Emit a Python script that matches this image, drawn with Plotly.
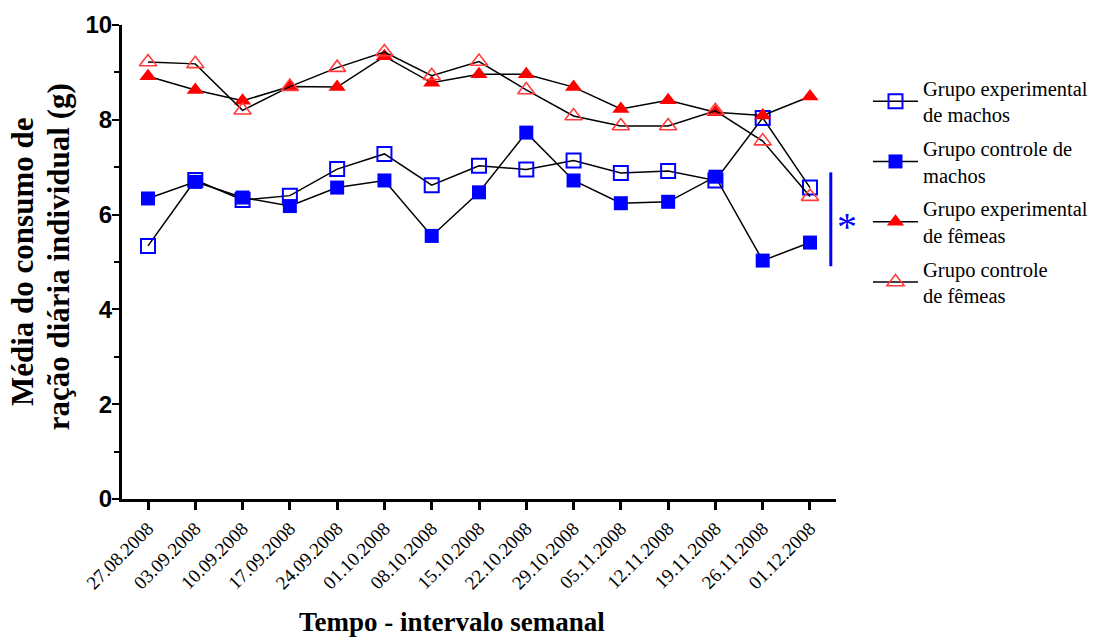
import plotly.graph_objects as go

dates = ["27.08.2008", "03.09.2008", "10.09.2008", "17.09.2008", "24.09.2008",
         "01.10.2008", "08.10.2008", "15.10.2008", "22.10.2008", "29.10.2008",
         "05.11.2008", "12.11.2008", "19.11.2008", "26.11.2008", "01.12.2008"]

exp_machos = [5.34, 6.73, 6.31, 6.40, 6.96, 7.28, 6.62, 7.03, 6.95, 7.14, 6.88, 6.92, 6.72, 8.04, 6.57]
ctrl_machos = [6.34, 6.69, 6.36, 6.18, 6.57, 6.72, 5.55, 6.47, 7.73, 6.72, 6.24, 6.27, 6.80, 5.03, 5.41]
exp_femeas = [8.92, 8.63, 8.40, 8.70, 8.69, 9.34, 8.78, 8.96, 8.96, 8.69, 8.23, 8.41, 8.16, 8.09, 8.49]
ctrl_femeas = [9.22, 9.18, 8.20, 8.70, 9.10, 9.43, 8.93, 9.23, 8.63, 8.08, 7.87, 7.87, 8.19, 7.55, 6.38]

names = ["Grupo experimental<br>de machos", "Grupo controle de<br>machos",
         "Grupo experimental<br>de fêmeas", "Grupo controle<br>de fêmeas"]

ytitle_lines = ["Média do consumo de", "ração diária individual (g)"]
xtitle = "Tempo - intervalo semanal"

sig_low, sig_high = 4.91, 6.89

SERIF = "Liberation Serif"
SANS = "Liberation Sans"

fig = go.Figure()
styles = [
    (exp_machos, dict(symbol="square-open", size=14, color="#0000ff", line=dict(width=2, color="#0000ff"))),
    (ctrl_machos, dict(symbol="square", size=14, color="#0000ff", line=dict(width=0))),
    (exp_femeas, dict(symbol="triangle-up", size=15, color="#ff0000", line=dict(width=0))),
    (ctrl_femeas, dict(symbol="triangle-up-open", size=15, color="#ff3b3b", line=dict(width=1.6, color="#ff3b3b"))),
]
for i, ((vals, mk), nm) in enumerate(zip(styles, names)):
    fig.add_trace(go.Scatter(x=dates, y=vals, name=nm, mode="lines+markers",
                             legendgroup="g%d" % i,
                             line=dict(color="black", width=1.5), marker=mk,
                             cliponaxis=False))

fig.add_shape(type="line", xref="x", yref="y", x0=14.44, x1=14.44, y0=sig_low, y1=sig_high,
              line=dict(color="#0000ff", width=3))
fig.add_annotation(x=1.016, y=0.574, xref="paper", yref="paper", text="*",
                   showarrow=False, font=dict(family=SERIF, size=40, color="#0000ff"),
                   xanchor="center", yanchor="middle")

fig.add_annotation(x=(22 - 122) / 714, y=0.5, xref="paper", yref="paper",
                   text=ytitle_lines[0], textangle=-90, showarrow=False,
                   font=dict(family=SERIF, size=31, color="black", weight="bold"),
                   xanchor="center", yanchor="middle")
fig.add_annotation(x=(58 - 122) / 714, y=0.51, xref="paper", yref="paper",
                   text=ytitle_lines[1], textangle=-90, showarrow=False,
                   font=dict(family=SERIF, size=31, color="black", weight="bold"),
                   xanchor="center", yanchor="middle")
fig.add_annotation(x=0.462, y=-0.259, xref="paper", yref="paper",
                   text=xtitle, showarrow=False,
                   font=dict(family=SERIF, size=27, color="black", weight="bold"),
                   xanchor="center", yanchor="middle")

fig.update_layout(
    width=1101, height=637,
    margin=dict(l=122, r=265, t=25, b=138, autoexpand=False),
    plot_bgcolor="white", paper_bgcolor="white",
    showlegend=True,
    legend=dict(x=868 / 1101, y=1 - 68 / 637, xref="container", yref="container",
                xanchor="left", yanchor="top",
                font=dict(family=SERIF, size=20.5, color="black"),
                traceorder="grouped", itemwidth=45, tracegroupgap=4,
                bgcolor="rgba(0,0,0,0)"),
    xaxis=dict(type="category", range=[-0.55, 14.55], showgrid=False, zeroline=False,
               showline=True, linecolor="black", linewidth=3,
               ticks="outside", ticklen=8, tickwidth=3, tickcolor="black",
               tickangle=-45, tickfont=dict(family=SERIF, size=19, color="black")),
    yaxis=dict(range=[0, 10], showgrid=False, zeroline=False,
               showline=True, linecolor="black", linewidth=3,
               tickvals=[0, 2, 4, 6, 8, 10],
               ticks="outside", ticklen=7, tickwidth=2, tickcolor="black",
               ticklabelstandoff=-5,
               tickfont=dict(family=SANS, size=24, color="black", weight="bold"),
               minor=dict(tickvals=[1, 3, 5, 7, 9], ticks="outside", ticklen=5,
                          tickwidth=2, tickcolor="black")),
)

fig.write_html("out.html", config={"displayModeBar": False},
               post_script="document.body.style.margin='0px';")
